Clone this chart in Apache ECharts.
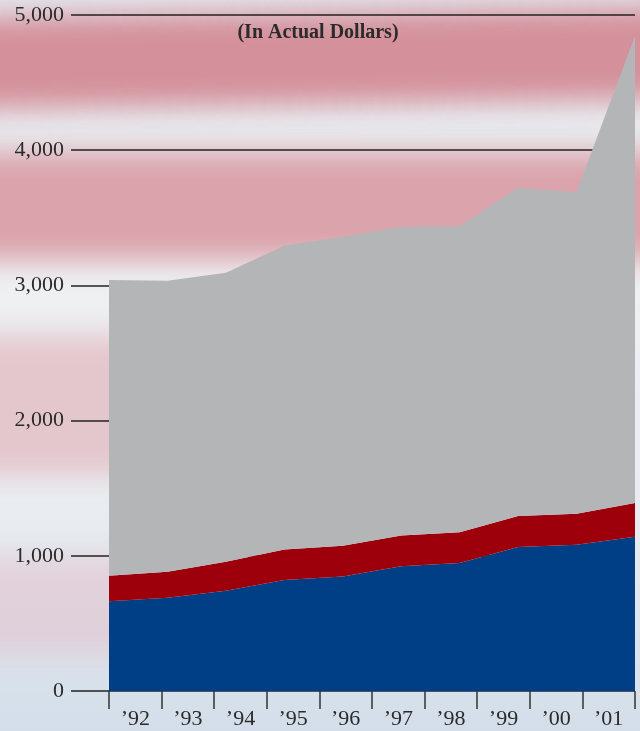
<!DOCTYPE html>
<html>
<head>
<meta charset="utf-8">
<script src="https://cdn.jsdelivr.net/npm/echarts@6/dist/echarts.min.js"></script>
<style>
  html, body { margin: 0; padding: 0; width: 640px; height: 731px; overflow: hidden; }
  body { position: relative; background: linear-gradient(180deg, #e3e6ec 0%, #eef0f2 40%, #e9edf1 70%, #d3deea 100%); }
  .band { position: absolute; filter: blur(14px); }
  #chart { position: absolute; left: 0; top: 0; width: 640px; height: 731px; }
</style>
</head>
<body>
<!-- soft flag-stripe backdrop -->
<div class="band" style="left:-40px; top:12px; width:720px; height:92px; background:rgba(210,132,143,0.88); transform:rotate(-0.8deg);"></div>
<div class="band" style="left:-40px; top:152px; width:720px; height:108px; background:rgba(214,142,152,0.78);"></div>
<div class="band" style="left:-40px; top:335px; width:190px; height:140px; background:rgba(222,165,175,0.55);"></div>
<div class="band" style="left:-40px; top:555px; width:190px; height:100px; background:rgba(226,182,192,0.45);"></div>
<div id="chart"></div>
<script>
// Annual amounts, stacked bottom to top
const years = ['\u201992', '\u201993', '\u201994', '\u201995', '\u201996', '\u201997', '\u201998', '\u201999', '\u201900', '\u201901'];
const blueValues = [663, 690, 742, 821, 847, 923, 947, 1065, 1082, 1141];
const redValues = [190, 192, 214, 225, 227, 227, 227, 229, 229, 249];
const grayValues = [2187, 2153, 2138, 2248, 2286, 2284, 2266, 2426, 2379, 3455];
const yTicks = [0, 1000, 2000, 3000, 4000, 5000];

const serif = '"Liberation Serif", "DejaVu Serif", serif';
const chart = echarts.init(document.getElementById('chart'), null, { renderer: 'canvas' });

function areaSeries(name, values, color) {
  return {
    name: name,
    type: 'line',
    stack: 'total',
    xAxisIndex: 1,
    yAxisIndex: 1,
    data: values,
    symbol: 'none',
    lineStyle: { width: 0 },
    areaStyle: { color: color, opacity: 1 },
    z: 3
  };
}

chart.setOption({
  backgroundColor: 'transparent',
  animation: false,
  title: {
    text: '(In Actual Dollars)',
    left: 313,
    top: 18,
    textAlign: 'center',
    textStyle: { fontFamily: serif, fontSize: 20, fontWeight: 'bold', color: '#2b2b2b' }
  },
  grid: [
    { left: 71, right: 5, top: 15, bottom: 40 },
    { left: 109, right: 5, top: 15, bottom: 40 }
  ],
  xAxis: [
    { gridIndex: 0, type: 'category', data: years, show: false },
    { gridIndex: 1, type: 'category', data: years, boundaryGap: false, show: false },
    {
      gridIndex: 1,
      type: 'category',
      data: years,
      boundaryGap: true,
      position: 'bottom',
      axisLine: { show: false },
      axisTick: { show: true, length: 18, lineStyle: { color: '#333', width: 1.5 } },
      axisLabel: { margin: 17, fontFamily: serif, fontSize: 22, color: '#2b2b2b' },
      z: 5
    }
  ],
  yAxis: [
    {
      gridIndex: 0,
      type: 'value',
      min: yTicks[0],
      max: yTicks[yTicks.length - 1],
      interval: 1000,
      axisLine: { show: false },
      axisTick: { show: false },
      splitLine: { show: true, lineStyle: { color: '#222', width: 1.5 } },
      axisLabel: {
        margin: 7,
        fontFamily: serif,
        fontSize: 22,
        color: '#2b2b2b',
        formatter: v => v.toLocaleString('en-US')
      }
    },
    { gridIndex: 1, type: 'value', min: 0, max: 5000, interval: 1000, show: false }
  ],
  series: [
    areaSeries('Blue', blueValues, '#003e86'),
    areaSeries('Red', redValues, '#9d000b'),
    areaSeries('Gray', grayValues, '#b4b5b6')
  ]
});
</script>
</body>
</html>
